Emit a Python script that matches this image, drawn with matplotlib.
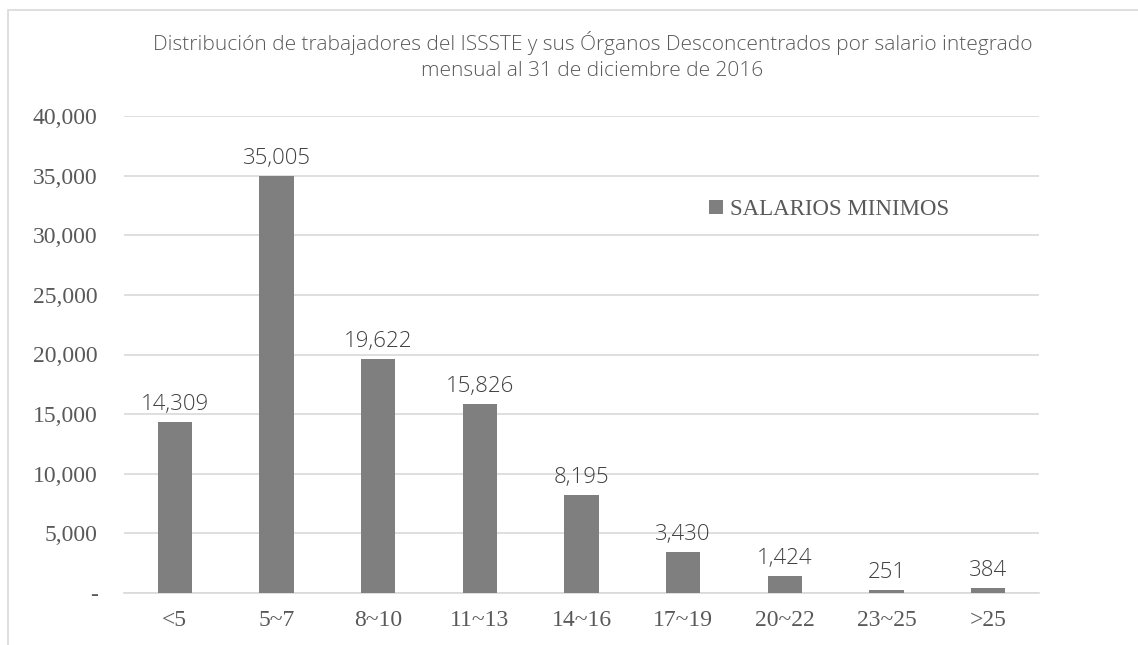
import matplotlib
matplotlib.use("Agg")
import matplotlib.pyplot as plt
from matplotlib.patches import Rectangle
from matplotlib.ticker import FuncFormatter

categories = ["<5", "5~7", "8~10", "11~13", "14~16", "17~19", "20~22", "23~25", ">25"]
values = [14309, 35005, 19622, 15826, 8195, 3430, 1424, 251, 384]
yticks = [0, 5000, 10000, 15000, 20000, 25000, 30000, 35000, 40000]
series_name = "SALARIOS MINIMOS"
title = ("Distribución de trabajadores del ISSSTE y sus Órganos Desconcentrados por salario integrado\n"
         "mensual al 31 de diciembre de 2016")

W, H = 1138, 645
fig = plt.figure(figsize=(W / 100, H / 100), dpi=100)
fig.patch.set_facecolor("white")

# chart frame (cropped at right/bottom)
fig.patches.append(Rectangle((8 / W, -0.1), 1.2, (H - 10) / H + 0.1, transform=fig.transFigure,
                             fill=False, edgecolor="#d9d9d9", linewidth=1.2))

L, R = 124, 1039
ax = fig.add_axes([L / W, 52 / H, (R - L) / W, (593 - 116) / H])
x = range(len(categories))
bars = ax.bar(x, values, width=0.335, color="#7f7f7f", zorder=3, label=series_name)
ax.set_xlim(-0.5, len(categories) - 0.5)
ax.set_ylim(0, 40000)
ax.set_yticks(yticks)
ax.yaxis.set_major_formatter(FuncFormatter(lambda v, p: "-" if v == 0 else f"{int(v):,}"))
ax.set_xticks(list(x))
ax.set_xticklabels(categories)
serif = ["Liberation Serif", "DejaVu Serif"]
for lab in ax.get_yticklabels() + ax.get_xticklabels():
    lab.set_fontfamily(serif)
    lab.set_fontsize(17)
    lab.set_color("#595959")
ax.tick_params(axis="both", length=0)
ax.tick_params(axis="y", pad=19)
ax.tick_params(axis="x", pad=12)
ax.grid(axis="y", color="#d9d9d9", linewidth=1.2, zorder=0)
for s in ["top", "right", "left"]:
    ax.spines[s].set_visible(False)
ax.spines["bottom"].set_color("#d9d9d9")
ax.spines["bottom"].set_linewidth(1.2)

for b, v in zip(bars, values):
    ax.annotate(f"{v:,}", (b.get_x() + b.get_width() / 2, v), xytext=(0, 5),
                textcoords="offset points", ha="center", va="bottom",
                fontsize=16, color="#404040", family=["Open Sans", "DejaVu Sans"],
                fontweight="light")

leg = ax.legend(loc="upper left", bbox_to_anchor=((700 - L) / (R - L), (593 - 190) / (593 - 116)),
                frameon=False, prop={"family": serif, "size": 16.5},
                handlelength=0.6, handleheight=0.6, handletextpad=0.3, borderaxespad=0)
for t in leg.get_texts():
    t.set_color("#595959")

fig.text(0.5 * (145 + 1040) / W, 1 - 56 / H, title, ha="center", va="center",
         fontsize=15, color="#595959", family=["Open Sans", "DejaVu Sans"], fontweight="light",
         linespacing=1.45)

fig.savefig("out.png", dpi=100, facecolor="white")
